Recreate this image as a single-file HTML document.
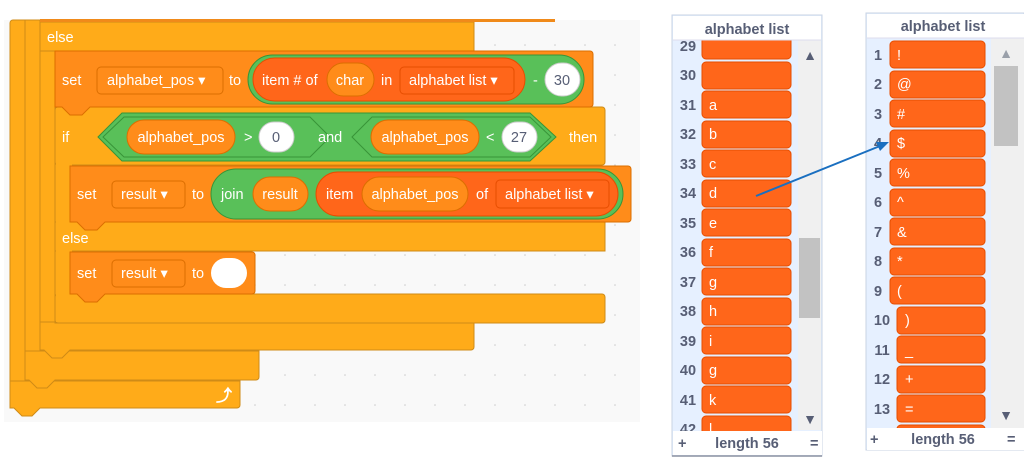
<!DOCTYPE html>
<html><head><meta charset="utf-8"><style>
html,body{margin:0;padding:0;background:#fff;}
svg text{font-family:"Liberation Sans",sans-serif;}
.b text{font-size:14.5px;}
.l text{font-size:14.5px;}
</style></head><body>
<svg width="1024" height="466" viewBox="0 0 1024 466" xmlns="http://www.w3.org/2000/svg">
<defs>
<pattern id="dots" width="30" height="30" patternUnits="userSpaceOnUse"><circle cx="15" cy="15" r="0.8" fill="#ccc"/></pattern>
<clipPath id="rc"><rect x="866" y="38" width="158" height="390"/></clipPath>
<clipPath id="lc"><rect x="672" y="40" width="150" height="391"/></clipPath>
</defs>
<rect x="4" y="20" width="636" height="402" fill="#f9f9f9"/>
<rect x="4" y="20" width="636" height="402" fill="url(#dots)"/>

<g stroke="#cf8b17" stroke-width="1">
<rect x="10" y="20" width="20" height="388" fill="#ffab19" rx="3"/>
<rect x="25" y="20" width="18" height="360" fill="#ffab19"/>
<rect x="40" y="20" width="18" height="330" fill="#ffab19"/>
<path d="M10 381 H240 V405 a3 3 0 0 1 -3 3 H40 l-8 8 h-10 l-8 -8 H10 Z" fill="#ffab19"/>
<path d="M25 351 H259 V377 a3 3 0 0 1 -3 3 H55 l-8 8 h-10 l-8 -8 H25 Z" fill="#ffab19"/>
<path d="M40 322 H474 V347 a3 3 0 0 1 -3 3 H70 l-8 8 h-10 l-8 -8 H40 Z" fill="#ffab19"/>
<rect x="40" y="22" width="434" height="29" fill="#ffab19"/>
<rect x="55" y="107" width="18" height="216" fill="#ffab19"/>
<rect x="55" y="107" width="550" height="58" fill="#ffab19" rx="3"/>
<rect x="55" y="222" width="550" height="29" fill="#ffab19"/>
<rect x="55" y="294" width="550" height="29" fill="#ffab19" rx="3"/>
<rect x="56" y="108" width="16" height="214" fill="#ffab19" stroke="none"/>
</g>
<rect x="40" y="19" width="515" height="3" fill="#f08a1a"/>

<g class="b">
<text x="47" y="42" fill="#fff">else</text>
<path d="M55 51 H590 a3 3 0 0 1 3 3 V104 a3 3 0 0 1 -3 3 H90 l-8 8 h-12 l-8 -8 H55 Z" fill="#ff8c1a" stroke="#db6e00"/>
<text x="62" y="85" fill="#fff">set</text>
<rect x="97" y="67" width="126" height="27" rx="4" fill="#ff8c1a" stroke="#db6e00"/>
<text x="107" y="85" fill="#fff">alphabet_pos ▾</text>
<text x="229" y="85" fill="#fff">to</text>
<rect x="248" y="55" width="336" height="49" rx="24.5" fill="#59c059" stroke="#389438"/>
<rect x="253" y="58" width="272" height="43" rx="21.5" fill="#ff661a" stroke="#e64d00"/>
<text x="262" y="85" fill="#fff">item # of</text>
<rect x="327" y="63" width="47" height="33" rx="16.5" fill="#ff8c1a" stroke="#db6e00"/>
<text x="350" y="85" fill="#fff" text-anchor="middle">char</text>
<text x="381" y="85" fill="#fff">in</text>
<rect x="400" y="67" width="114" height="27" rx="4" fill="#ff661a" stroke="#e64d00"/>
<text x="409" y="85" fill="#fff">alphabet list ▾</text>
<text x="533" y="85" fill="#fff">-</text>
<rect x="545" y="63" width="35" height="33" rx="16.5" fill="#fff" stroke="#ccc"/>
<text x="562" y="85" fill="#575e75" text-anchor="middle">30</text>

<text x="62" y="142" fill="#fff">if</text>
<path d="M98 137 L122 113 H530 L556 137 L530 161 H122 Z" fill="#59c059" stroke="#389438"/>
<path d="M103 137 L124 117 H310 L330 137 L310 157 H124 Z" fill="none" stroke="#389438"/>
<path d="M352 137 L372 117 H530 L551 137 L530 157 H372 Z" fill="none" stroke="#389438"/>
<rect x="127" y="120" width="108" height="34" rx="17" fill="#ff8c1a" stroke="#db6e00"/>
<text x="181" y="142" fill="#fff" text-anchor="middle">alphabet_pos</text>
<text x="244" y="142" fill="#fff">&gt;</text>
<rect x="259" y="122" width="35" height="30" rx="15" fill="#fff" stroke="#ccc"/>
<text x="276" y="142" fill="#575e75" text-anchor="middle">0</text>
<text x="318" y="142" fill="#fff">and</text>
<rect x="371" y="120" width="108" height="34" rx="17" fill="#ff8c1a" stroke="#db6e00"/>
<text x="425" y="142" fill="#fff" text-anchor="middle">alphabet_pos</text>
<text x="486" y="142" fill="#fff">&lt;</text>
<rect x="502" y="122" width="35" height="30" rx="15" fill="#fff" stroke="#ccc"/>
<text x="519" y="142" fill="#575e75" text-anchor="middle">27</text>
<text x="569" y="142" fill="#fff">then</text>

<path d="M70 166 H628 a3 3 0 0 1 3 3 V219 a3 3 0 0 1 -3 3 H105 l-8 8 h-12 l-8 -8 H70 Z" fill="#ff8c1a" stroke="#db6e00"/>
<text x="77" y="199" fill="#fff">set</text>
<rect x="112" y="181" width="73" height="27" rx="4" fill="#ff8c1a" stroke="#db6e00"/>
<text x="121" y="199" fill="#fff">result ▾</text>
<text x="192" y="199" fill="#fff">to</text>
<rect x="211" y="169" width="412" height="50" rx="25" fill="#59c059" stroke="#389438"/>
<text x="221" y="199" fill="#fff">join</text>
<rect x="253" y="177" width="55" height="34" rx="17" fill="#ff8c1a" stroke="#db6e00"/>
<text x="280" y="199" fill="#fff" text-anchor="middle">result</text>
<rect x="316" y="172" width="302" height="44" rx="22" fill="#ff661a" stroke="#e64d00"/>
<text x="326" y="199" fill="#fff">item</text>
<rect x="362" y="177" width="106" height="34" rx="17" fill="#ff8c1a" stroke="#db6e00"/>
<text x="415" y="199" fill="#fff" text-anchor="middle">alphabet_pos</text>
<text x="476" y="199" fill="#fff">of</text>
<rect x="496" y="180" width="113" height="28" rx="4" fill="#ff661a" stroke="#e64d00"/>
<text x="505" y="199" fill="#fff">alphabet list ▾</text>

<text x="62" y="243" fill="#fff">else</text>
<path d="M70 252 H252 a3 3 0 0 1 3 3 V291 a3 3 0 0 1 -3 3 H105 l-8 8 h-12 l-8 -8 H70 Z" fill="#ff8c1a" stroke="#db6e00"/>
<text x="77" y="278" fill="#fff">set</text>
<rect x="112" y="260" width="73" height="27" rx="4" fill="#ff8c1a" stroke="#db6e00"/>
<text x="121" y="278" fill="#fff">result ▾</text>
<text x="192" y="278" fill="#fff">to</text>
<rect x="211" y="258" width="36" height="30" rx="15" fill="#fff"/>
</g>
<text x="216" y="401" fill="#fff" font-size="16" font-weight="bold">⤴</text>

<!-- left list -->
<rect x="672" y="15" width="150" height="441" fill="#e6f0ff" stroke="#c8d3e3"/>
<rect x="798" y="40" width="23" height="390" fill="#f0f0f0"/>
<rect x="799" y="238" width="21" height="80" fill="#c2c2c2"/>
<text x="810" y="60" font-size="14" fill="#575e75" text-anchor="middle">▲</text>
<text x="810" y="424" font-size="14" fill="#575e75" text-anchor="middle">▼</text>
<g class="l" font-weight="bold" clip-path="url(#lc)">
<rect x="702" y="32" width="89" height="27" rx="4" fill="#ff661a" stroke="#e64d00"/><text x="688" y="51" fill="#575e75" text-anchor="middle">29</text>
<rect x="702" y="62" width="89" height="27" rx="4" fill="#ff661a" stroke="#e64d00"/><text x="688" y="80" fill="#575e75" text-anchor="middle">30</text>
<rect x="702" y="91" width="89" height="27" rx="4" fill="#ff661a" stroke="#e64d00"/><text x="688" y="110" fill="#575e75" text-anchor="middle">31</text><text x="709" y="110" fill="#fff" font-weight="normal">a</text>
<rect x="702" y="121" width="89" height="27" rx="4" fill="#ff661a" stroke="#e64d00"/><text x="688" y="139" fill="#575e75" text-anchor="middle">32</text><text x="709" y="139" fill="#fff" font-weight="normal">b</text>
<rect x="702" y="150" width="89" height="27" rx="4" fill="#ff661a" stroke="#e64d00"/><text x="688" y="169" fill="#575e75" text-anchor="middle">33</text><text x="709" y="169" fill="#fff" font-weight="normal">c</text>
<rect x="702" y="180" width="89" height="27" rx="4" fill="#ff661a" stroke="#e64d00"/><text x="688" y="198" fill="#575e75" text-anchor="middle">34</text><text x="709" y="198" fill="#fff" font-weight="normal">d</text>
<rect x="702" y="209" width="89" height="27" rx="4" fill="#ff661a" stroke="#e64d00"/><text x="688" y="228" fill="#575e75" text-anchor="middle">35</text><text x="709" y="228" fill="#fff" font-weight="normal">e</text>
<rect x="702" y="239" width="89" height="27" rx="4" fill="#ff661a" stroke="#e64d00"/><text x="688" y="257" fill="#575e75" text-anchor="middle">36</text><text x="709" y="257" fill="#fff" font-weight="normal">f</text>
<rect x="702" y="268" width="89" height="27" rx="4" fill="#ff661a" stroke="#e64d00"/><text x="688" y="287" fill="#575e75" text-anchor="middle">37</text><text x="709" y="287" fill="#fff" font-weight="normal">g</text>
<rect x="702" y="298" width="89" height="27" rx="4" fill="#ff661a" stroke="#e64d00"/><text x="688" y="316" fill="#575e75" text-anchor="middle">38</text><text x="709" y="316" fill="#fff" font-weight="normal">h</text>
<rect x="702" y="327" width="89" height="27" rx="4" fill="#ff661a" stroke="#e64d00"/><text x="688" y="346" fill="#575e75" text-anchor="middle">39</text><text x="709" y="346" fill="#fff" font-weight="normal">i</text>
<rect x="702" y="357" width="89" height="27" rx="4" fill="#ff661a" stroke="#e64d00"/><text x="688" y="375" fill="#575e75" text-anchor="middle">40</text><text x="709" y="375" fill="#fff" font-weight="normal">g</text>
<rect x="702" y="386" width="89" height="27" rx="4" fill="#ff661a" stroke="#e64d00"/><text x="688" y="405" fill="#575e75" text-anchor="middle">41</text><text x="709" y="405" fill="#fff" font-weight="normal">k</text>
<rect x="702" y="416" width="89" height="27" rx="4" fill="#ff661a" stroke="#e64d00"/><text x="688" y="434" fill="#575e75" text-anchor="middle">42</text><text x="709" y="434" fill="#fff" font-weight="normal">l</text>
</g>
<rect x="673" y="16" width="148" height="24" fill="#fff"/>
<line x1="673" y1="40" x2="821" y2="40" stroke="#dde"/>
<text x="747" y="34" font-size="14.5" font-weight="bold" fill="#575e75" text-anchor="middle">alphabet list</text>
<rect x="673" y="431" width="149" height="24" fill="#fff"/>
<line x1="672" y1="456" x2="822" y2="456" stroke="#8a90a0" stroke-width="1.5"/>
<text x="678" y="448" font-size="14.5" font-weight="bold" fill="#575e75">+</text>
<text x="747" y="448" font-size="14.5" font-weight="bold" fill="#575e75" text-anchor="middle">length 56</text>
<text x="810" y="448" font-size="14.5" font-weight="bold" fill="#575e75">=</text>

<!-- right list -->
<rect x="866" y="13" width="158" height="437" fill="#e6f0ff" stroke="#c8d3e3"/>
<rect x="991" y="38" width="33" height="392" fill="#f0f0f0"/>
<rect x="994" y="66" width="24" height="80" fill="#c2c2c2"/>
<text x="1006" y="58" font-size="14" fill="#9aa0aa" text-anchor="middle">▲</text>
<text x="1006" y="420" font-size="14" fill="#575e75" text-anchor="middle">▼</text>
<g class="l" font-weight="bold" clip-path="url(#rc)">
<rect x="890" y="41" width="95" height="27" rx="4" fill="#ff661a" stroke="#e64d00"/><text x="878" y="60" fill="#575e75" text-anchor="middle">1</text><text x="897" y="60" fill="#fff" font-weight="normal">!</text>
<rect x="890" y="71" width="95" height="27" rx="4" fill="#ff661a" stroke="#e64d00"/><text x="878" y="89" fill="#575e75" text-anchor="middle">2</text><text x="897" y="89" fill="#fff" font-weight="normal">@</text>
<rect x="890" y="100" width="95" height="27" rx="4" fill="#ff661a" stroke="#e64d00"/><text x="878" y="119" fill="#575e75" text-anchor="middle">3</text><text x="897" y="119" fill="#fff" font-weight="normal">#</text>
<rect x="890" y="130" width="95" height="27" rx="4" fill="#ff661a" stroke="#e64d00"/><text x="878" y="148" fill="#575e75" text-anchor="middle">4</text><text x="897" y="148" fill="#fff" font-weight="normal">$</text>
<rect x="890" y="159" width="95" height="27" rx="4" fill="#ff661a" stroke="#e64d00"/><text x="878" y="178" fill="#575e75" text-anchor="middle">5</text><text x="897" y="178" fill="#fff" font-weight="normal">%</text>
<rect x="890" y="189" width="95" height="27" rx="4" fill="#ff661a" stroke="#e64d00"/><text x="878" y="207" fill="#575e75" text-anchor="middle">6</text><text x="897" y="207" fill="#fff" font-weight="normal">^</text>
<rect x="890" y="218" width="95" height="27" rx="4" fill="#ff661a" stroke="#e64d00"/><text x="878" y="237" fill="#575e75" text-anchor="middle">7</text><text x="897" y="237" fill="#fff" font-weight="normal">&amp;</text>
<rect x="890" y="248" width="95" height="27" rx="4" fill="#ff661a" stroke="#e64d00"/><text x="878" y="266" fill="#575e75" text-anchor="middle">8</text><text x="897" y="266" fill="#fff" font-weight="normal">*</text>
<rect x="890" y="277" width="95" height="27" rx="4" fill="#ff661a" stroke="#e64d00"/><text x="878" y="296" fill="#575e75" text-anchor="middle">9</text><text x="897" y="296" fill="#fff" font-weight="normal">(</text>
<rect x="897" y="307" width="88" height="27" rx="4" fill="#ff661a" stroke="#e64d00"/><text x="882" y="325" fill="#575e75" text-anchor="middle">10</text><text x="905" y="325" fill="#fff" font-weight="normal">)</text>
<rect x="897" y="336" width="88" height="27" rx="4" fill="#ff661a" stroke="#e64d00"/><text x="882" y="355" fill="#575e75" text-anchor="middle">11</text><text x="905" y="355" fill="#fff" font-weight="normal">_</text>
<rect x="897" y="366" width="88" height="27" rx="4" fill="#ff661a" stroke="#e64d00"/><text x="882" y="384" fill="#575e75" text-anchor="middle">12</text><text x="905" y="384" fill="#fff" font-weight="normal">+</text>
<rect x="897" y="395" width="88" height="27" rx="4" fill="#ff661a" stroke="#e64d00"/><text x="882" y="414" fill="#575e75" text-anchor="middle">13</text><text x="905" y="414" fill="#fff" font-weight="normal">=</text>
<rect x="897" y="425" width="88" height="27" rx="4" fill="#ff661a" stroke="#e64d00"/>
</g>
<rect x="867" y="14" width="157" height="24" fill="#fff"/>
<line x1="867" y1="38" x2="1024" y2="38" stroke="#dde"/>
<text x="943" y="31" font-size="14.5" font-weight="bold" fill="#575e75" text-anchor="middle">alphabet list</text>
<rect x="867" y="428" width="157" height="22" fill="#fff"/>
<text x="870" y="444" font-size="14.5" font-weight="bold" fill="#575e75">+</text>
<text x="943" y="444" font-size="14.5" font-weight="bold" fill="#575e75" text-anchor="middle">length 56</text>
<text x="1007" y="444" font-size="14.5" font-weight="bold" fill="#575e75">=</text>

<line x1="756" y1="196" x2="880" y2="146" stroke="#1a6fc0" stroke-width="2"/>
<path d="M889 142 L876 142 L880 151 Z" fill="#1a6fc0"/>
</svg>
</body></html>
